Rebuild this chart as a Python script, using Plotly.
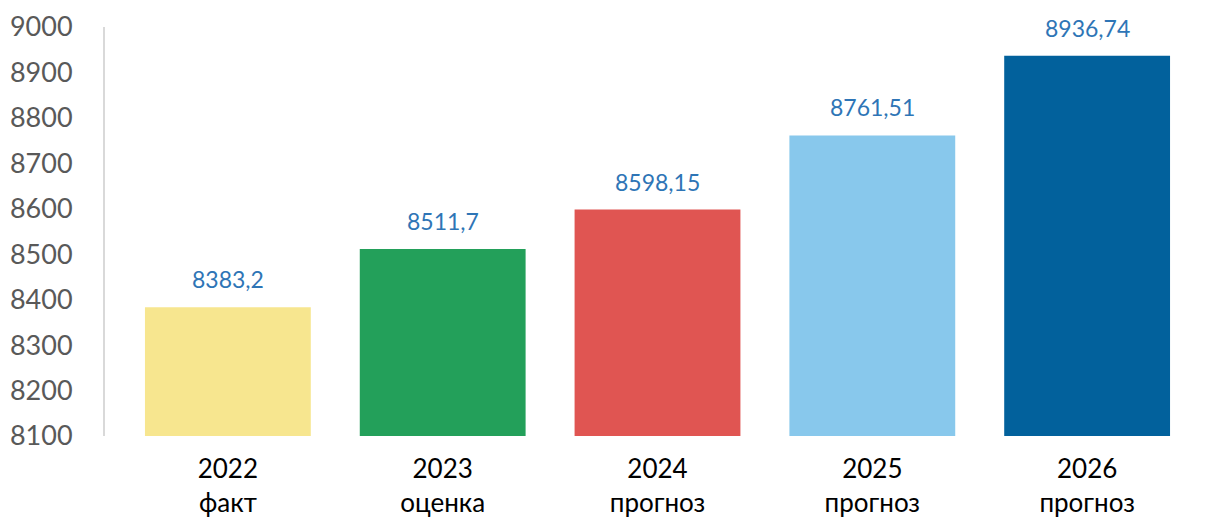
import plotly.graph_objects as go

years = ["2022", "2023", "2024", "2025", "2026"]
kinds = ["факт", "оценка", "прогноз", "прогноз", "прогноз"]
values = [8383.2, 8511.7, 8598.15, 8761.51, 8936.74]
labels = ["8383,2", "8511,7", "8598,15", "8761,51", "8936,74"]
colors = ["#F7E68F", "#23A05A", "#E05552", "#88C8EC", "#02619C"]
ytick_vals = list(range(8100, 9001, 100))
y_base = 8100

cats = [f"{y}<br>{k}" for y, k in zip(years, kinds)]
xs = list(range(len(cats)))

fig = go.Figure()
fig.add_trace(go.Bar(
    x=xs, y=[v - y_base for v in values], base=y_base,
    marker=dict(color=colors, line=dict(width=0)),
    width=0.772,
    hoverinfo="skip",
))

for x, v, t in zip(xs, values, labels):
    fig.add_annotation(x=x, y=v, text=t, showarrow=False, yanchor="bottom",
                       yshift=12, font=dict(family="Lato", size=23, color="#2E75B6"))

fig.update_layout(
    width=1210, height=521,
    margin=dict(l=97, r=8, t=19, b=93),
    paper_bgcolor="white", plot_bgcolor="white",
    showlegend=False,
    font=dict(family="Lato"),
)
fig.update_xaxes(
    range=[-0.572, 4.572], automargin=False,
    tickmode="array", tickvals=xs, ticktext=cats,
    tickfont=dict(family="Lato", size=26, color="black"),
    showline=False, showgrid=False, zeroline=False,
    ticks="outside", ticklen=10, tickcolor="rgba(0,0,0,0)",
)
fig.update_yaxes(
    range=[8100, 9000], automargin=False,
    tickmode="array", tickvals=ytick_vals,
    tickfont=dict(family="Lato", size=27, color="#595959"),
    showline=True, linecolor="#D9D9D9", linewidth=2,
    showgrid=False, zeroline=False,
    ticks="outside", ticklen=25, tickcolor="rgba(0,0,0,0)",
)
fig.write_html("out.html")
